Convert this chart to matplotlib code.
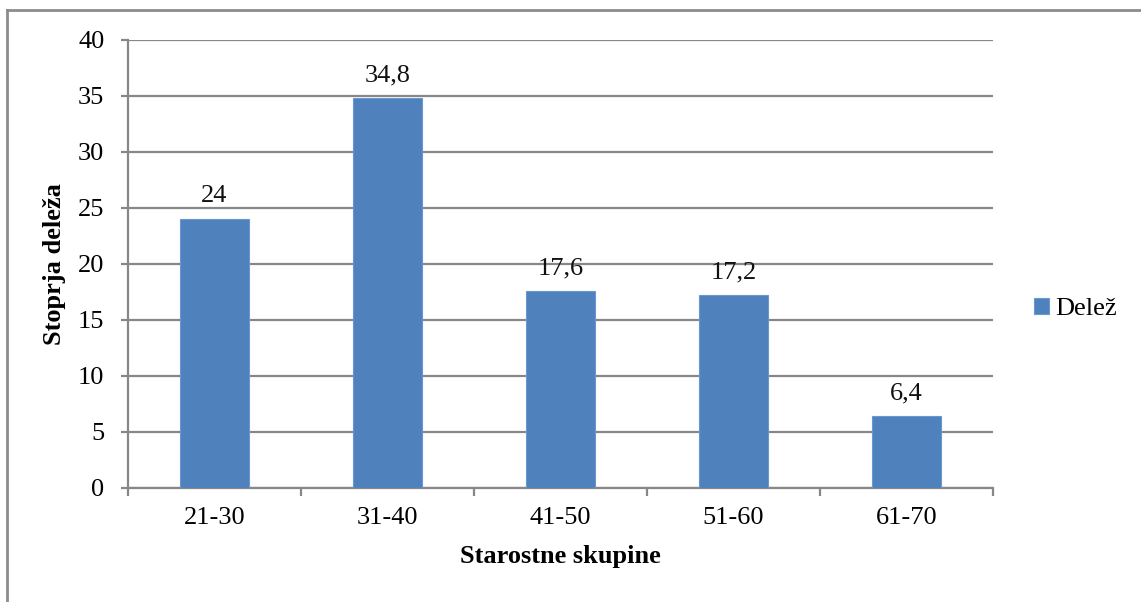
import matplotlib
matplotlib.use("Agg")
import matplotlib.pyplot as plt
from matplotlib.lines import Line2D
from matplotlib.patches import Patch
import numpy as np

categories = ["21-30", "31-40", "41-50", "51-60", "61-70"]
values = [24, 34.8, 17.6, 17.2, 6.4]
value_labels = ["24", "34,8", "17,6", "17,2", "6,4"]
y_ticks = [0, 5, 10, 15, 20, 25, 30, 35, 40]
series_name = "Delež"

plt.rcParams["font.family"] = ["Liberation Serif", "DejaVu Serif"]

FS = 19
bar_color = "#4F81BD"
grid_color = "#878787"
W, H = 1141, 602

fig = plt.figure(figsize=(W / 100, H / 100), dpi=100)
ax = fig.add_axes([128 / W, 1 - 488 / H, 865 / W, 448 / H])

x = np.arange(len(categories))
ax.bar(x, values, width=0.4, color=bar_color, edgecolor="#6A97CF",
       linewidth=0.8, zorder=3, label=series_name)

for xi, v, lab in zip(x, values, value_labels):
    ax.annotate(lab, (xi, v), xytext=(0, 8.5), textcoords="offset points",
                ha="center", va="bottom", fontsize=FS, color="#111111")

ax.set_xlim(-0.5, len(categories) - 0.5)
ax.set_ylim(0, 40)
ax.set_yticks(y_ticks)
ax.set_yticklabels([str(t) for t in y_ticks])
ax.yaxis.grid(True, color=grid_color, linewidth=1.6, zorder=0)
ax.set_axisbelow(True)

ax.set_xticks(x)
ax.set_xticklabels(categories)
ax.set_xticks(np.arange(-0.5, len(categories)), minor=True)
ax.tick_params(axis="x", which="major", length=0, pad=14, labelsize=FS)
ax.tick_params(axis="x", which="minor", length=6, width=1.6, color=grid_color)
ax.tick_params(axis="y", length=5, width=1.6, color=grid_color, pad=12, labelsize=FS)

for side in ["top", "right"]:
    ax.spines[side].set_visible(False)
for side in ["left", "bottom"]:
    ax.spines[side].set_color(grid_color)
    ax.spines[side].set_linewidth(1.6)

ax.set_xlabel("Starostne skupine", fontsize=FS, fontweight="bold", va="center")
ax.xaxis.set_label_coords(0.5, (488 - 557) / 448)
ax.set_ylabel("Stoprja deleža", fontsize=FS, fontweight="bold", va="center")
ax.yaxis.set_label_coords((55 - 128) / 865, 0.5)

handle = Patch(facecolor=bar_color, edgecolor="#6A97CF", linewidth=0.8)
fig.legend([handle], [series_name], loc="center left",
           bbox_to_anchor=(1034 / W, 1 - 309 / H), frameon=False, fontsize=FS,
           handlelength=0.55, handleheight=0.55, handletextpad=0.25,
           borderpad=0, borderaxespad=0)

# outer frame of the chart area
fig.add_artist(Line2D([7 / W, 7 / W], [0, 1 - 10 / H],
                      transform=fig.transFigure, color="#8C8C8C", linewidth=2))
fig.add_artist(Line2D([7 / W, 1], [1 - 10 / H, 1 - 10 / H],
                      transform=fig.transFigure, color="#8C8C8C", linewidth=2))

fig.savefig("out.png", dpi=100)
